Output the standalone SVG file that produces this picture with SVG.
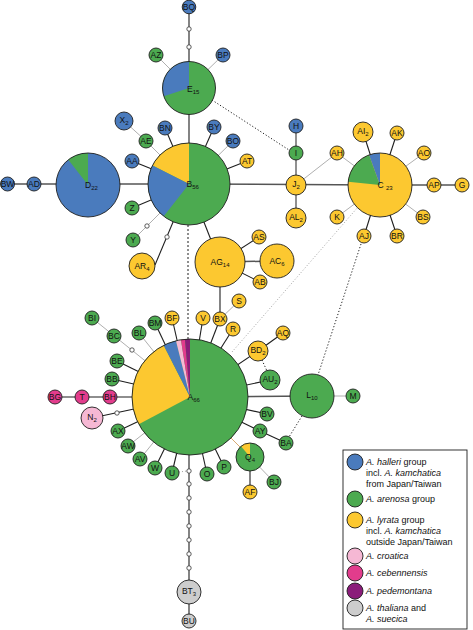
<svg xmlns="http://www.w3.org/2000/svg" width="473" height="630" viewBox="0 0 473 630">
<style>
.k{stroke:#1e1e1e;stroke-width:1.1;fill:none}
.d{stroke:#555;stroke-width:1.5;fill:none}
.g{stroke:#9a9a9a;stroke-width:0.8;fill:none}
.t{stroke:#d4a060;stroke-width:0.9;fill:none}
.dt{stroke:#1e1e1e;stroke-width:1;stroke-dasharray:1.2 2;fill:none}
.dg{stroke:#8a8a8a;stroke-width:0.8;stroke-dasharray:1 2;fill:none}
.bl{fill:#4a7bbd}.gr{fill:#4caa50}.ye{fill:#fcc830}.pk{fill:#f6b8d4}.mg{fill:#e23c8c}.pu{fill:#8b1c7a}.gy{fill:#cdcdcd}
circle.n{stroke:#1e1e1e;stroke-width:0.9}
.nf{fill:none;stroke:#1e1e1e;stroke-width:0.9}
.dot{fill:#fff;stroke:#333;stroke-width:0.8}
text{font-family:"Liberation Sans",Arial,sans-serif;font-size:8.5px;fill:#111;text-anchor:middle}
.s{font-size:6px}
.st{text-anchor:start}
.lg{font-size:9px;text-anchor:start}
.i{font-style:italic}
</style>
<rect width="473" height="630" fill="#fff"/>
<g id="connectors">
<line class="k" x1="189" y1="88" x2="189" y2="7"/>
<line class="k" x1="189" y1="184" x2="189" y2="88"/>
<line class="k" x1="189" y1="184" x2="165" y2="128"/>
<line class="k" x1="189" y1="184" x2="214" y2="127"/>
<line class="k" x1="189" y1="184" x2="247" y2="161"/>
<line class="k" x1="189" y1="184" x2="132" y2="161"/>
<line class="k" x1="189" y1="184" x2="132" y2="208"/>
<line class="k" x1="189" y1="184" x2="155" y2="265"/>
<line class="k" x1="189" y1="184" x2="211" y2="240"/>
<line class="k" x1="220" y1="262" x2="259" y2="237"/>
<line class="k" x1="220" y1="262" x2="260" y2="282"/>
<line class="k" x1="220" y1="262" x2="220" y2="319"/>
<line class="k" x1="190" y1="397" x2="203" y2="318"/>
<line class="k" x1="190" y1="397" x2="220" y2="319"/>
<line class="k" x1="190" y1="397" x2="233" y2="329"/>
<line class="k" x1="190" y1="397" x2="172" y2="318"/>
<line class="k" x1="190" y1="397" x2="155" y2="323"/>
<line class="k" x1="190" y1="397" x2="258" y2="351"/>
<line class="k" x1="190" y1="397" x2="270" y2="380"/>
<line class="k" x1="190" y1="397" x2="267" y2="414"/>
<line class="k" x1="190" y1="397" x2="260" y2="431"/>
<line class="k" x1="190" y1="397" x2="224" y2="467"/>
<line class="k" x1="190" y1="397" x2="207" y2="474"/>
<line class="k" x1="190" y1="397" x2="155" y2="468"/>
<line class="k" x1="190" y1="397" x2="172" y2="473"/>
<line class="k" x1="190" y1="397" x2="118" y2="431"/>
<line class="k" x1="190" y1="397" x2="117" y2="361"/>
<line class="k" x1="190" y1="397" x2="112" y2="379"/>
<line class="k" x1="190" y1="397" x2="55" y2="397"/>
<line class="k" x1="190" y1="397" x2="92" y2="418"/>
<line class="k" x1="258" y1="351" x2="283" y2="333"/>
<line class="k" x1="260" y1="431" x2="286" y2="443"/>
<line class="k" x1="250" y1="457" x2="250" y2="492"/>
<line class="k" x1="189" y1="397" x2="189" y2="621"/>
<line class="k" x1="380" y1="185" x2="363" y2="132"/>
<line class="k" x1="380" y1="185" x2="397" y2="133"/>
<line class="k" x1="380" y1="185" x2="397" y2="236"/>
<line class="k" x1="380" y1="185" x2="364" y2="236"/>
<line class="d" x1="189" y1="184" x2="7" y2="184"/>
<line class="d" x1="189" y1="184" x2="380" y2="185"/>
<line class="d" x1="220" y1="262" x2="277" y2="261"/>
<line class="d" x1="190" y1="397" x2="312" y2="396"/>
<line class="d" x1="380" y1="185" x2="462" y2="185"/>
<line class="d" x1="296" y1="126" x2="296" y2="218" style="stroke-width:1.3"/>
<line class="g" x1="189" y1="88" x2="156" y2="55"/>
<line class="g" x1="189" y1="88" x2="223" y2="55"/>
<line class="g" x1="189" y1="184" x2="233" y2="141"/>
<line class="g" x1="189" y1="184" x2="146" y2="141"/>
<line class="g" x1="146" y1="141" x2="124" y2="121"/>
<line class="g" x1="189" y1="184" x2="133" y2="240"/>
<line class="g" x1="220" y1="319" x2="239" y2="301"/>
<line class="g" x1="312" y1="396" x2="353" y2="396"/>
<line class="g" x1="380" y1="185" x2="424" y2="153"/>
<line class="g" x1="380" y1="185" x2="423" y2="217"/>
<line class="g" x1="380" y1="185" x2="337" y2="217"/>
<line class="g" x1="296" y1="185" x2="337" y2="153"/>
<line class="g" x1="337" y1="153" x2="380" y2="185"/>
<line class="g" x1="190" y1="397" x2="92" y2="318"/>
<line class="g" x1="190" y1="397" x2="139" y2="333"/>
<line class="g" x1="190" y1="397" x2="140" y2="459"/>
<line class="g" x1="190" y1="397" x2="128" y2="446"/>
<line class="g" x1="250" y1="457" x2="274" y2="482"/>
<line class="t" x1="190" y1="397" x2="250" y2="457"/>
<line class="dt" x1="212" y1="100" x2="289" y2="150"/>
<line class="dt" x1="188" y1="225" x2="188" y2="339" style="stroke-dasharray:2 2"/>
<line class="dg" x1="232" y1="352" x2="358" y2="207"/>
<line class="dt" x1="361" y1="244" x2="318" y2="375"/>
<line class="dt" x1="302" y1="416" x2="289" y2="437"/>
<line class="dt" x1="262" y1="360" x2="267" y2="371"/>
<line class="dg" x1="179" y1="472" x2="187" y2="471"/>
<circle class="dot" cx="189" cy="29" r="2.2"/>
<circle class="dot" cx="189" cy="47" r="2.2"/>
<circle class="dot" cx="167" cy="237" r="2.2"/>
<circle class="dot" cx="147" cy="226" r="2.2"/>
<circle class="dot" cx="132" cy="350" r="2.2"/>
<circle class="dot" cx="117" cy="413" r="2.2"/>
<circle class="dot" cx="189" cy="471" r="2.2"/>
<circle class="dot" cx="189" cy="484" r="2.2"/>
<circle class="dot" cx="189" cy="498" r="2.2"/>
<circle class="dot" cx="189" cy="512" r="2.2"/>
<circle class="dot" cx="189" cy="526" r="2.2"/>
<circle class="dot" cx="189" cy="540" r="2.2"/>
<circle class="dot" cx="189" cy="554" r="2.2"/>
<circle class="dot" cx="189" cy="568" r="2.2"/>
</g>
<g id="n-E15"><circle class="gr" cx="189" cy="88" r="26.5"/><path class="bl" d="M189,88 L163.8,96.19 A26.5,26.5 0 0 1 189,61.5 Z"/><circle class="nf" cx="189" cy="88" r="26.5"/><text class="st" x="187" y="92">E<tspan class="s" dy="2">15</tspan></text></g>
<g id="n-B56"><circle class="gr" cx="189" cy="184" r="41"/><path class="ye" d="M189,184 L152.47,165.39 A41,41 0 0 1 189,143 Z"/><path class="bl" d="M189,184 L163.76,216.31 A41,41 0 0 1 152.47,165.39 Z"/><circle class="nf" cx="189" cy="184" r="41"/><text class="st" x="186.5" y="187">B<tspan class="s" dy="2">56</tspan></text></g>
<g id="n-D22"><circle class="bl" cx="88" cy="185" r="32"/><path class="gr" d="M88,185 L68.3,159.78 A32,32 0 0 1 88,153 Z"/><circle class="nf" cx="88" cy="185" r="32"/><text class="st" x="85" y="188">D<tspan class="s" dy="2">22</tspan></text></g>
<g id="n-C23"><circle class="ye" cx="380" cy="185" r="32"/><path class="gr" d="M380,185 L348.18,181.66 A32,32 0 0 1 369.06,154.93 Z"/><path class="bl" d="M380,185 L369.06,154.93 A32,32 0 0 1 380,153 Z"/><circle class="nf" cx="380" cy="185" r="32"/><text class="st" x="377.5" y="188">C <tspan class="s" dy="2">23</tspan></text></g>
<g id="n-A66"><circle class="gr" cx="190" cy="397" r="58"/><path class="ye" d="M190,397 L138.79,424.23 A58,58 0 0 1 163.67,345.32 Z"/><path class="bl" d="M190,397 L163.67,345.32 A58,58 0 0 1 175.97,340.72 Z"/><path class="pk" d="M190,397 L175.97,340.72 A58,58 0 0 1 180.93,339.71 Z"/><path class="mg" d="M190,397 L180.93,339.71 A58,58 0 0 1 184.94,339.22 Z"/><path class="pu" d="M190,397 L184.94,339.22 A58,58 0 0 1 190,339 Z"/><circle class="nf" cx="190" cy="397" r="58"/><text class="st" x="187.5" y="400">A<tspan class="s" dy="2">66</tspan></text></g>
<g id="n-Q4"><circle class="gr" cx="250" cy="457" r="14"/><path class="ye" d="M250,457 L241,446.28 A14,14 0 0 1 250,443 Z"/><circle class="nf" cx="250" cy="457" r="14"/><text x="250" y="460">Q<tspan class="s" dy="2">4</tspan></text></g>
<g id="n-AG14"><circle class="n ye" cx="220" cy="262" r="25"/><text x="220" y="265">AG<tspan class="s" dy="2">14</tspan></text></g>
<g id="n-AC6"><circle class="n ye" cx="277" cy="261" r="17"/><text x="277" y="264">AC<tspan class="s" dy="2">6</tspan></text></g>
<g id="n-L10"><circle class="n gr" cx="312" cy="396" r="22"/><text x="312" y="398">L<tspan class="s" dy="2">10</tspan></text></g>
<g id="n-AR4"><circle class="n ye" cx="142" cy="266" r="13"/><text x="142" y="269">AR<tspan class="s" dy="2">4</tspan></text></g>
<g id="n-BT3"><circle class="n gy" cx="189" cy="592" r="12"/><text x="189" y="594">BT<tspan class="s" dy="2">3</tspan></text></g>
<g id="n-N2"><circle class="n pk" cx="92" cy="418" r="11"/><text x="92" y="420">N<tspan class="s" dy="2">2</tspan></text></g>
<g id="n-X2"><circle class="n bl" cx="124" cy="121" r="9"/><text x="124" y="123">X<tspan class="s" dy="2">2</tspan></text></g>
<g id="n-J2"><circle class="n ye" cx="296" cy="185" r="10"/><text x="296" y="187">J<tspan class="s" dy="2">2</tspan></text></g>
<g id="n-AL2"><circle class="n ye" cx="296" cy="218" r="10"/><text x="296" y="220">AL<tspan class="s" dy="2">2</tspan></text></g>
<g id="n-AI2"><circle class="n ye" cx="363" cy="132" r="10"/><text x="363" y="134">AI<tspan class="s" dy="2">2</tspan></text></g>
<g id="n-BD2"><circle class="n ye" cx="258" cy="351" r="10"/><text x="258" y="353">BD<tspan class="s" dy="2">2</tspan></text></g>
<g id="n-AU2"><circle class="n gr" cx="270" cy="380" r="10"/><text x="270" y="382">AU<tspan class="s" dy="2">2</tspan></text></g>
<g id="n-BQ"><circle class="n bl" cx="189" cy="7" r="6.8"/><text x="189" y="10">BQ</text></g>
<g id="n-AZ"><circle class="n gr" cx="156" cy="55" r="7"/><text x="156" y="58">AZ</text></g>
<g id="n-BP"><circle class="n bl" cx="223" cy="55" r="7"/><text x="223" y="58">BP</text></g>
<g id="n-AE"><circle class="n gr" cx="146" cy="141" r="7"/><text x="146" y="144">AE</text></g>
<g id="n-BN"><circle class="n bl" cx="165" cy="128" r="7"/><text x="165" y="131">BN</text></g>
<g id="n-BY"><circle class="n bl" cx="214" cy="127" r="7"/><text x="214" y="130">BY</text></g>
<g id="n-BO"><circle class="n bl" cx="233" cy="141" r="7"/><text x="233" y="144">BO</text></g>
<g id="n-AT"><circle class="n ye" cx="247" cy="161" r="7"/><text x="247" y="164">AT</text></g>
<g id="n-AA"><circle class="n bl" cx="132" cy="161" r="7"/><text x="132" y="164">AA</text></g>
<g id="n-AD"><circle class="n bl" cx="34" cy="184" r="7"/><text x="34" y="187">AD</text></g>
<g id="n-BW"><circle class="n bl" cx="7.5" cy="184" r="7"/><text x="7.5" y="187">BW</text></g>
<g id="n-Z"><circle class="n gr" cx="132" cy="208" r="7"/><text x="132" y="211">Z</text></g>
<g id="n-Y"><circle class="n gr" cx="133" cy="240" r="7"/><text x="133" y="243">Y</text></g>
<g id="n-AS"><circle class="n ye" cx="259" cy="237" r="7"/><text x="259" y="240">AS</text></g>
<g id="n-AB"><circle class="n ye" cx="260" cy="282" r="7"/><text x="260" y="285">AB</text></g>
<g id="n-S"><circle class="n ye" cx="239" cy="301" r="7"/><text x="239" y="304">S</text></g>
<g id="n-BX"><circle class="n ye" cx="220" cy="319" r="7"/><text x="220" y="322">BX</text></g>
<g id="n-V"><circle class="n ye" cx="203" cy="318" r="7"/><text x="203" y="321">V</text></g>
<g id="n-R"><circle class="n ye" cx="233" cy="329" r="7"/><text x="233" y="332">R</text></g>
<g id="n-BF"><circle class="n ye" cx="172" cy="318" r="7"/><text x="172" y="321">BF</text></g>
<g id="n-BM"><circle class="n gr" cx="155" cy="323" r="7"/><text x="155" y="326">BM</text></g>
<g id="n-BL"><circle class="n gr" cx="139" cy="333" r="7"/><text x="139" y="336">BL</text></g>
<g id="n-BC"><circle class="n gr" cx="114" cy="336" r="7"/><text x="114" y="339">BC</text></g>
<g id="n-BI"><circle class="n gr" cx="92" cy="318" r="7"/><text x="92" y="321">BI</text></g>
<g id="n-BE"><circle class="n gr" cx="117" cy="361" r="7"/><text x="117" y="364">BE</text></g>
<g id="n-BB"><circle class="n gr" cx="112" cy="379" r="7"/><text x="112" y="382">BB</text></g>
<g id="n-BH"><circle class="n mg" cx="110" cy="397" r="7"/><text x="110" y="400">BH</text></g>
<g id="n-T"><circle class="n mg" cx="82" cy="397" r="7"/><text x="82" y="400">T</text></g>
<g id="n-BG"><circle class="n mg" cx="55" cy="397" r="7"/><text x="55" y="400">BG</text></g>
<g id="n-AX"><circle class="n gr" cx="118" cy="431" r="7"/><text x="118" y="434">AX</text></g>
<g id="n-AW"><circle class="n gr" cx="128" cy="446" r="7"/><text x="128" y="449">AW</text></g>
<g id="n-AV"><circle class="n gr" cx="140" cy="459" r="7"/><text x="140" y="462">AV</text></g>
<g id="n-W"><circle class="n gr" cx="155" cy="468" r="7"/><text x="155" y="471">W</text></g>
<g id="n-U"><circle class="n gr" cx="172" cy="473" r="7"/><text x="172" y="476">U</text></g>
<g id="n-O"><circle class="n gr" cx="207" cy="474" r="7"/><text x="207" y="477">O</text></g>
<g id="n-P"><circle class="n gr" cx="224" cy="467" r="7"/><text x="224" y="470">P</text></g>
<g id="n-AF"><circle class="n ye" cx="250" cy="492" r="7"/><text x="250" y="495">AF</text></g>
<g id="n-BJ"><circle class="n gr" cx="274" cy="482" r="7"/><text x="274" y="485">BJ</text></g>
<g id="n-BA"><circle class="n gr" cx="286" cy="443" r="7"/><text x="286" y="446">BA</text></g>
<g id="n-AY"><circle class="n gr" cx="260" cy="431" r="7"/><text x="260" y="434">AY</text></g>
<g id="n-BV"><circle class="n gr" cx="267" cy="414" r="7"/><text x="267" y="417">BV</text></g>
<g id="n-M"><circle class="n gr" cx="353" cy="396" r="7"/><text x="353" y="399">M</text></g>
<g id="n-AQ"><circle class="n ye" cx="283" cy="333" r="7"/><text x="283" y="336">AQ</text></g>
<g id="n-BU"><circle class="n gy" cx="189" cy="621" r="7"/><text x="189" y="624">BU</text></g>
<g id="n-H"><circle class="n bl" cx="296" cy="126" r="7"/><text x="296" y="129">H</text></g>
<g id="n-I"><circle class="n gr" cx="296" cy="153" r="7"/><text x="296" y="156">I</text></g>
<g id="n-AH"><circle class="n ye" cx="337" cy="153" r="7"/><text x="337" y="156">AH</text></g>
<g id="n-AK"><circle class="n ye" cx="397" cy="133" r="7"/><text x="397" y="136">AK</text></g>
<g id="n-AO"><circle class="n ye" cx="424" cy="153" r="7"/><text x="424" y="156">AO</text></g>
<g id="n-AP"><circle class="n ye" cx="434" cy="185" r="7"/><text x="434" y="188">AP</text></g>
<g id="n-G"><circle class="n ye" cx="462" cy="185" r="7"/><text x="462" y="188">G</text></g>
<g id="n-BS"><circle class="n ye" cx="423" cy="217" r="7"/><text x="423" y="220">BS</text></g>
<g id="n-BR"><circle class="n ye" cx="397" cy="236" r="7"/><text x="397" y="239">BR</text></g>
<g id="n-AJ"><circle class="n ye" cx="364" cy="236" r="7"/><text x="364" y="239">AJ</text></g>
<g id="n-K"><circle class="n ye" cx="337" cy="217" r="7"/><text x="337" y="220">K</text></g>
<g id="legend">
<rect x="343" y="450" width="124" height="179" fill="#fff" stroke="#1e1e1e" stroke-width="0.9"/>
<circle class="n bl" cx="355" cy="462" r="8"/>
<circle class="n gr" cx="355" cy="499" r="8"/>
<circle class="n ye" cx="355" cy="520" r="8"/>
<circle class="n pk" cx="355" cy="556" r="8"/>
<circle class="n mg" cx="355" cy="573" r="8"/>
<circle class="n pu" cx="355" cy="591" r="8"/>
<circle class="n gy" cx="355" cy="608" r="8"/>
<text class="lg" x="366" y="465"><tspan class="i">A. halleri</tspan> group</text>
<text class="lg" x="366" y="476">incl. <tspan class="i">A. kamchatica</tspan></text>
<text class="lg" x="366" y="487">from Japan/Taiwan</text>
<text class="lg" x="366" y="502"><tspan class="i">A. arenosa</tspan> group</text>
<text class="lg" x="366" y="523"><tspan class="i">A. lyrata</tspan> group</text>
<text class="lg" x="366" y="534">incl. <tspan class="i">A. kamchatica</tspan></text>
<text class="lg" x="366" y="545">outside Japan/Taiwan</text>
<text class="lg i" x="366" y="559">A. croatica</text>
<text class="lg i" x="366" y="576">A. cebennensis</text>
<text class="lg i" x="366" y="594">A. pedemontana</text>
<text class="lg" x="366" y="611"><tspan class="i">A. thaliana</tspan> and</text>
<text class="lg i" x="366" y="622">A. suecica</text>
</g>
</svg>
